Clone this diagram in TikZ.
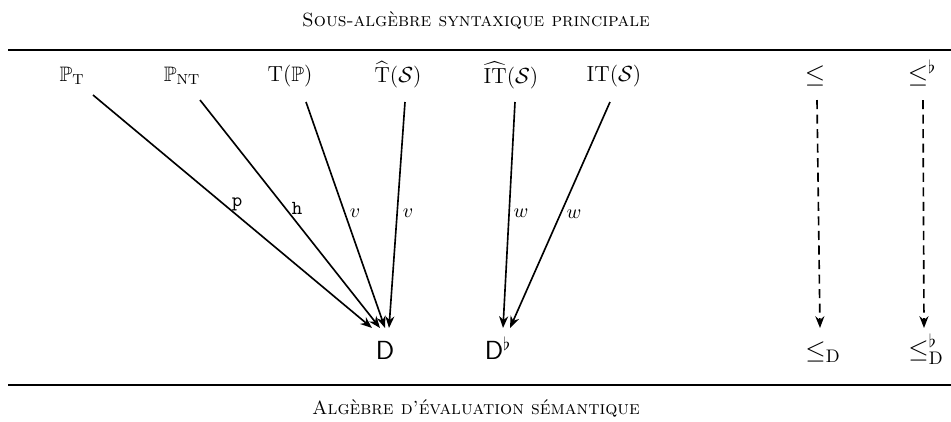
\documentclass[tikz,border=0pt]{standalone}
\usepackage{amssymb}
\usetikzlibrary{arrows.meta}
\begin{document}
\begin{tikzpicture}[x=0.55pt,y=-0.55pt,
  obj/.style={inner sep=1pt,font=\fontsize{11.5}{14}\selectfont},
  big/.style={inner sep=1pt,font=\fontsize{14.5}{17}\selectfont},
  ttl/.style={inner sep=1pt,font=\fontsize{10.5}{12}\selectfont},
  arr/.style={-{Stealth[length=6.5pt,width=5pt]},line width=0.9pt},
  darr/.style={arr,dashed,dash pattern=on 5pt off 3pt},
  lab/.style={font=\fontsize{10.5}{12}\selectfont,inner sep=1pt},
  rulebar/.style={line width=1.6pt}]
\useasboundingbox (0,0) rectangle (951,421);
\node[ttl] (ttop) at (476,20) {\textsc{Sous-algèbre syntaxique principale}};
\node[ttl] (tbot) at (476,408) {\textsc{Algèbre d'évaluation sémantique}};
\coordinate (r1a) at (8,50); \coordinate (r1b) at (951,50);
\coordinate (r2a) at (8,385); \coordinate (r2b) at (951,385);
\draw[rulebar] (r1a) -- (r1b);
\draw[rulebar] (r2a) -- (r2b);
\node[obj] (pt) at (72,76) {$\mathbb{P}_{\mathrm{T}}$};
\node[obj] (pnt) at (182,76) {$\mathbb{P}_{\mathrm{NT}}$};
\node[obj] (tp) at (290,76) {$\mathrm{T}(\mathbb{P})$};
\node[obj] (ths) at (398,75) {$\widehat{\mathrm{T}}(\mathcal{S})$};
\node[obj] (iths) at (511,75) {$\widehat{\mathrm{IT}}(\mathcal{S})$};
\node[obj] (its) at (614,76) {$\mathrm{IT}(\mathcal{S})$};
\node[big] (le) at (815,76) {$\leq$};
\node[big] (lef) at (922,73) {$\leq^{\flat}$};
\node[big] (d) at (385,350) {$\mathsf{D}$};
\node[big] (df) at (498,348) {$\mathsf{D}^{\flat}$};
\node[big] (led) at (823,352) {$\leq_{\mathrm{D}}$};
\node[big] (ledf) at (926,349) {$\leq^{\flat}_{\mathrm{D}}$};
\coordinate (s1) at (93,95); \coordinate (e1) at (372,328);
\coordinate (s2) at (200,100); \coordinate (e2) at (380,328);
\coordinate (s3) at (306,102); \coordinate (e3) at (385,328);
\coordinate (s4) at (405,102); \coordinate (e4) at (389,328);
\coordinate (s5) at (515,102); \coordinate (e5) at (503,328);
\coordinate (s6) at (610,102); \coordinate (e6) at (510,328);
\coordinate (s7) at (817,100); \coordinate (e7) at (820,328);
\coordinate (s8) at (923,100); \coordinate (e8) at (924,328);
\draw[arr] (s1) -- (e1);
\draw[arr] (s2) -- (e2);
\draw[arr] (s3) -- (e3);
\draw[arr] (s4) -- (e4);
\draw[arr] (s5) -- (e5);
\draw[arr] (s6) -- (e6);
\draw[darr] (s7) -- (e7);
\draw[darr] (s8) -- (e8);
\node[lab] (lp) at (237,204) {$\mathtt{p}$};
\node[lab] (lh) at (297,208) {$\mathtt{h}$};
\node[lab] (lv1) at (355,213) {$v$};
\node[lab] (lv2) at (408,213) {$v$};
\node[lab] (lw1) at (521,213) {$w$};
\node[lab] (lw2) at (574,214) {$w$};
\end{tikzpicture}
\end{document}
